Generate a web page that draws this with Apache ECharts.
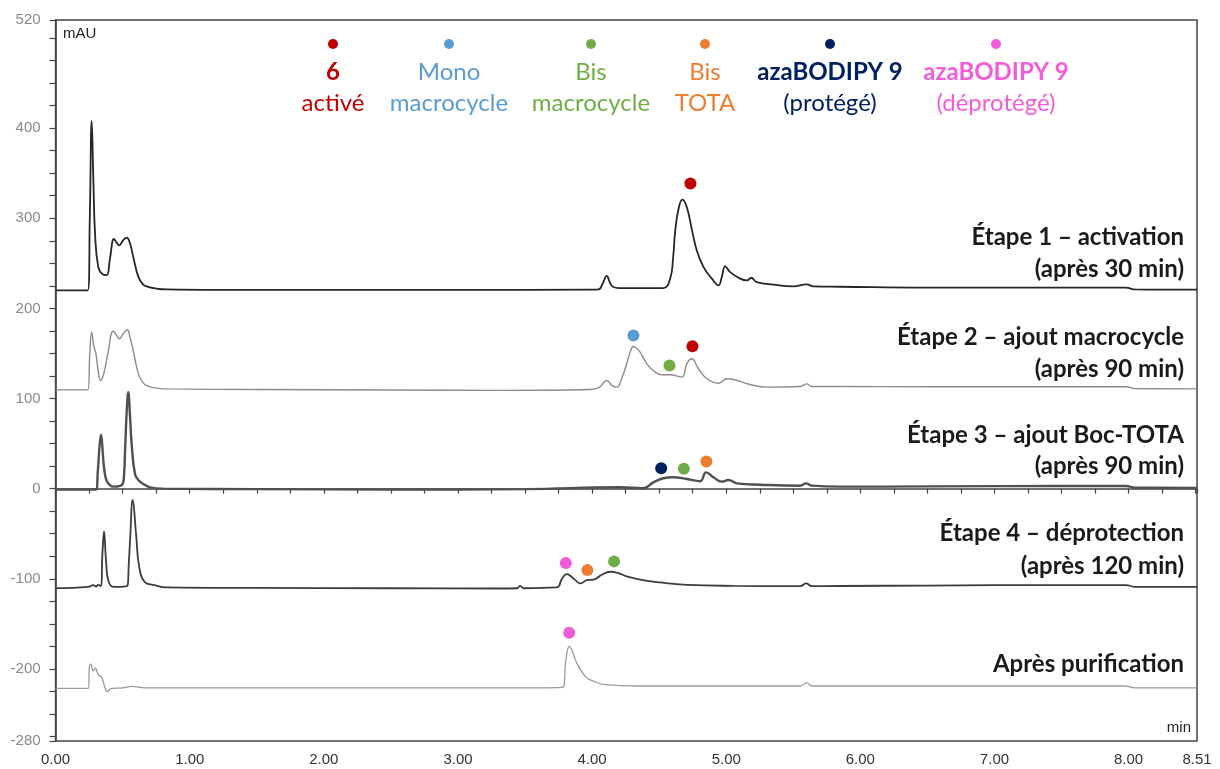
<!DOCTYPE html>
<html><head><meta charset="utf-8">
<script src="https://cdn.jsdelivr.net/npm/echarts@6/dist/echarts.min.js"></script>
<style>html,body{margin:0;padding:0;background:#fff}#c{width:1220px;height:769px}</style>
</head><body><div id="c"></div>
<script>
// ---- data (time in min, absorbance in mAU, already offset as plotted) ----
const trace1 = [[0,220],[0.24,220],[0.255,300],[0.269,408],[0.282,340],[0.294,283],[0.318,246],[0.35,238],[0.381,237],[0.405,255],[0.435,277],[0.455,273],[0.475,270],[0.5,275],[0.53,278.5],[0.555,272],[0.579,257],[0.617,235],[0.65,227],[0.679,224.4],[0.75,222],[0.828,221],[1.2,220.5],[2.0,220.5],[3.0,220.5],[4.0,220.8],[4.047,221],[4.08,228],[4.109,236],[4.135,228],[4.159,223.7],[4.2,222.6],[4.4,222.5],[4.532,222.6],[4.582,233],[4.605,258],[4.619,285],[4.644,310],[4.673,320.7],[4.706,312.6],[4.743,288],[4.781,264],[4.83,246],[4.893,233],[4.942,225.6],[4.967,234.8],[4.992,246.7],[5.029,240.3],[5.104,233],[5.154,231],[5.186,234],[5.228,229.2],[5.352,226.3],[5.501,224.4],[5.601,226.7],[5.65,224.4],[5.85,224],[6.5,223],[7.5,223],[7.98,223],[8.05,221],[8.51,220.8]];
const trace2 = [[0,109.6],[0.24,109.6],[0.255,150],[0.269,173.7],[0.285,158],[0.301,149.6],[0.318,130],[0.336,120],[0.36,128],[0.39,150],[0.43,174.8],[0.455,170],[0.475,166.3],[0.505,172],[0.535,176.3],[0.555,168],[0.579,153],[0.617,127.4],[0.65,118],[0.679,114.4],[0.75,111.5],[0.828,110.7],[1.5,110],[2.5,109.5],[3.314,109],[3.985,110],[4.05,112],[4.109,120],[4.15,114],[4.184,112.6],[4.22,122],[4.258,138.5],[4.285,152],[4.308,157.8],[4.33,156],[4.358,151.5],[4.408,138.5],[4.47,129.3],[4.519,126.3],[4.582,126.3],[4.669,123.7],[4.706,138.5],[4.743,144.1],[4.793,133],[4.855,121.9],[4.942,117],[5.004,121.9],[5.054,121.1],[5.178,115.6],[5.303,112.6],[5.551,113.3],[5.601,116.3],[5.638,113.3],[5.85,113.3],[6.5,113],[7.5,113],[7.98,113],[8.05,111],[8.51,110.7]];
const trace3 = [[0,-1],[0.3,-1],[0.315,20],[0.328,48],[0.339,60],[0.348,48],[0.356,31],[0.368,16],[0.381,8.9],[0.405,4],[0.43,2.2],[0.5,5.2],[0.512,20],[0.518,42],[0.53,85],[0.542,107],[0.555,80],[0.567,49.6],[0.592,16.3],[0.62,9],[0.654,5.2],[0.704,1.5],[0.803,0],[1.5,-0.5],[2.5,-1],[3.5,-0.5],[4.209,1.5],[4.383,0.4],[4.457,7],[4.532,11.5],[4.606,12.6],[4.706,10.7],[4.805,8.2],[4.85,18.1],[4.905,12.6],[4.967,7.8],[5.016,9.6],[5.079,5.9],[5.253,4.4],[5.551,3.3],[5.596,5.9],[5.638,3.3],[5.85,2.2],[6.5,2.5],[7.5,3],[7.98,3],[8.05,1],[8.51,0.8]];
const trace4 = [[0,-110.4],[0.244,-109],[0.281,-107],[0.301,-108.5],[0.318,-106.7],[0.336,-108],[0.349,-72.6],[0.361,-47.4],[0.376,-80],[0.393,-102],[0.43,-108.9],[0.535,-107.8],[0.545,-85],[0.555,-57.8],[0.575,-12.6],[0.6,-50.4],[0.624,-87.4],[0.667,-104],[0.729,-106.7],[0.828,-109.6],[1.5,-110.2],[2.5,-110.5],[3.3,-110.8],[3.44,-110.5],[3.463,-107.8],[3.49,-110.5],[3.737,-109.6],[3.774,-100.4],[3.811,-94.8],[3.861,-99.6],[3.915,-105.2],[3.96,-101.5],[4.01,-101],[4.072,-95.6],[4.134,-92.2],[4.196,-93.7],[4.258,-97.4],[4.358,-101],[4.507,-104.1],[4.706,-106.7],[5.054,-107.8],[5.551,-108.1],[5.596,-105.2],[5.638,-108.1],[5.85,-108],[6.5,-107.5],[7.5,-107],[7.98,-107],[8.05,-109],[8.51,-109]];
const trace5 = [[0,-221.5],[0.245,-221.5],[0.252,-197.8],[0.262,-194.8],[0.281,-202.2],[0.296,-199.3],[0.318,-206],[0.344,-209.7],[0.368,-220.8],[0.386,-225.2],[0.418,-221.5],[0.5,-221],[0.57,-219.5],[0.667,-221],[1.5,-221],[2.5,-221],[3.5,-221],[3.78,-220.5],[3.805,-190],[3.83,-175],[3.86,-183],[3.878,-191],[3.947,-208],[4.0,-213],[4.1,-217.5],[4.34,-219],[5.55,-219],[5.6,-215.5],[5.64,-219],[7.0,-219],[7.97,-219],[8.05,-221],[8.51,-221]];

const traceLabels = [
  ['Étape 1 – activation','(après 30 min)'],
  ['Étape 2 – ajout macrocycle','(après 90 min)'],
  ['Étape 3 – ajout Boc-TOTA','(après 90 min)'],
  ['Étape 4 – déprotection','(après 120 min)'],
  ['Après purification']
];

// peak markers per compound
const peaksActive6   = [[4.733,338.5],[4.748,158]];
const peaksMono      = [[4.308,170]];
const peaksBisMacro  = [[4.577,136.7],[4.684,22.2],[4.164,-80.7]];
const peaksBisTota   = [[4.852,30],[3.965,-90.4]];
const peaksAzaProt   = [[4.515,22.6]];
const peaksAzaDeprot = [[3.804,-82.6],[3.829,-160]];

const compoundLines = [['6','activé'],['Mono','macrocycle'],['Bis','macrocycle'],['Bis','TOTA'],['azaBODIPY 9','(protégé)'],['azaBODIPY 9','(déprotégé)']];
const compoundBold  = [true,false,false,false,true,true];
const compoundColors = ['#C00000','#5B9BD5','#70AD47','#ED7D31','#002060','#F25CD9'];

const xLabelValues = [0,1,2,3,4,5,6,7,8,8.51];
const yLabelValues = [-280,-200,-100,0,100,200,300,400,520];

// ---- ticks ----
const xTicks = []; for (let i = 0; i <= 34; i++) xTicks.push(+(i*0.25).toFixed(2)); xTicks.push(8.51);
const yTicks = [-280]; for (let v = -275; v <= 500; v += 25) yTicks.push(v); yTicks.push(520);

const chart = echarts.init(document.getElementById('c'), null, {renderer:'canvas'});

const lineStyles = [
  {color:'#262626', width:1.8},
  {color:'#8c8c8c', width:1.4},
  {color:'#505050', width:2.4},
  {color:'#3c3c3c', width:1.8},
  {color:'#9a9a9a', width:1.3}
];
const traces = [trace1, trace2, trace3, trace4, trace5];
const peakSets = [peaksActive6, peaksMono, peaksBisMacro, peaksBisTota, peaksAzaProt, peaksAzaDeprot];

const series = traces.map((d,i)=>({
  type:'line', name:traceLabels[i].join(' '), data:d, showSymbol:false, smooth:0.45,
  lineStyle:lineStyles[i], silent:true, z:2
}));
peakSets.forEach((d,i)=>series.push({
  type:'scatter', name:compoundLines[i].join(' '), data:d, symbol:'circle', symbolSize:12,
  itemStyle:{color:compoundColors[i], opacity:1}, z:5
}));

// legend graphics
const legendX = [333,449,591,705,830,996];
const graphics = [];
compoundLines.forEach((ln,i)=>{
  graphics.push({type:'circle', shape:{cx:legendX[i], cy:44, r:5}, style:{fill:compoundColors[i]}});
  graphics.push({type:'text', x:legendX[i], y:72, style:{text:ln[0], fill:compoundColors[i], font:(compoundBold[i]?'bold ':'')+'24px Lato', textAlign:'center', textVerticalAlign:'middle'}});
  graphics.push({type:'text', x:legendX[i], y:103, style:{text:ln[1], fill:compoundColors[i], font:'24px Lato', textAlign:'center', textVerticalAlign:'middle'}});
});
// trace labels
const labelY = [[237,269],[337,369],[435,466],[533,566],[664]];
traceLabels.forEach((ls,i)=>{
  ls.forEach((t,j)=>graphics.push({type:'text', x:1184, y:labelY[i][j], style:{text:t, fill:'#1a1a1a', font:'bold 24px Lato', textAlign:'right', textVerticalAlign:'middle'}}));
});
graphics.push({type:'text', x:63, y:34, style:{text:'mAU', fill:'#222', font:'15px Arial', textVerticalAlign:'middle'}});
graphics.push({type:'text', x:1191, y:728, style:{text:'min', fill:'#222', font:'15px Arial', textAlign:'right', textVerticalAlign:'middle'}});

chart.setOption({
  animation:false,
  backgroundColor:'#fff',
  grid:{left:55.6, right:23, top:20, bottom:28, show:true, borderColor:'#444', borderWidth:1.5, backgroundColor:'transparent'},
  xAxis:{type:'value', min:0, max:8.51, offset:6,
    axisLine:{show:true, lineStyle:{color:'#444', width:1.5}},
    axisTick:{show:true, inside:false, length:5, customValues:xTicks, lineStyle:{color:'#444', width:1.2}},
    axisLabel:{customValues:xLabelValues, formatter:v=>(+v).toFixed(2), color:'#333', fontSize:15, fontFamily:'Arial', margin:5},
    splitLine:{show:false}},
  yAxis:{type:'value', min:-280, max:520, offset:6,
    axisLine:{show:true, lineStyle:{color:'#444', width:1.5}},
    axisTick:{show:true, inside:false, length:6, customValues:yTicks, lineStyle:{color:'#444', width:1.2}},
    axisLabel:{customValues:yLabelValues, formatter:v=>String(Math.round(v)), color:'#8a8a8a', fontSize:15, fontFamily:'Arial', margin:9},
    splitLine:{show:false}},
  series:series,
  graphic:graphics
});
</script></body></html>
